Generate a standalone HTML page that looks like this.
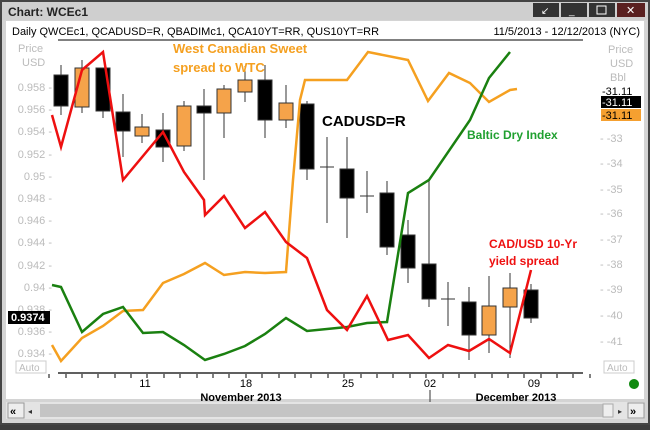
<!DOCTYPE html>
<html><head><meta charset="utf-8"><style>
body{margin:0;width:650px;height:425px;overflow:hidden;background:#3c3c3c;font-family:"Liberation Sans",sans-serif}
</style></head><body>
<svg width="650" height="425" xmlns="http://www.w3.org/2000/svg" font-family="Liberation Sans, sans-serif">
<rect x="0" y="0" width="650" height="425" fill="#444"/>
<rect x="2" y="2" width="646" height="421" fill="#d4d4d4"/>
<rect x="2" y="2" width="646" height="18" fill="#cfcfcf"/>
<text x="8" y="16" font-size="12" font-weight="bold" fill="#222">Chart: WCEc1</text>
<rect x="533" y="3" width="26" height="14" fill="#333"/><rect x="561" y="3" width="26" height="14" fill="#333"/><rect x="589" y="3" width="26" height="14" fill="#333"/><rect x="617" y="3" width="28" height="14" fill="#5a2020"/>
<text x="541" y="14" font-size="10" fill="#fff">↙</text><text x="569" y="14" font-size="10" fill="#fff">_</text><rect x="597" y="6" width="9" height="8" fill="none" stroke="#fff"/><text x="626" y="14" font-size="11" fill="#fff">✕</text>
<rect x="6" y="21" width="638" height="378" fill="#fff"/>
<text x="12" y="35" font-size="11" fill="#000">Daily QWCEc1, QCADUSD=R, QBADIMc1, QCA10YT=RR, QUS10YT=RR</text>
<text x="640" y="35" font-size="11" fill="#000" text-anchor="end">11/5/2013 - 12/12/2013 (NYC)</text>
<line x1="58" y1="40" x2="583" y2="40" stroke="#000"/>
<g font-size="11" fill="#bbb">
<text x="18" y="52">Price</text><text x="22" y="66">USD</text>
<text x="608" y="53">Price</text><text x="610" y="67">USD</text><text x="610" y="81">Bbl</text>
</g>
<g font-size="11" fill="#bbb" text-anchor="end">
<text x="52" y="91">0.958 -</text><text x="52" y="113">0.956 -</text><text x="52" y="135">0.954 -</text><text x="52" y="158">0.952 -</text><text x="52" y="180">0.95 -</text><text x="52" y="202">0.948 -</text><text x="52" y="224">0.946 -</text><text x="52" y="246">0.944 -</text><text x="52" y="269">0.942 -</text><text x="52" y="291">0.94 -</text><text x="52" y="313">0.938 -</text><text x="52" y="335">0.936 -</text><text x="52" y="357">0.934 -</text>
</g>
<g font-size="11" fill="#bbb">
<text x="600" y="142">- -33</text><text x="600" y="167">- -34</text><text x="600" y="193">- -35</text><text x="600" y="217">- -36</text><text x="600" y="243">- -37</text><text x="600" y="268">- -38</text><text x="600" y="293">- -39</text><text x="600" y="319">- -40</text><text x="600" y="345">- -41</text>
</g>
<text x="602" y="95" font-size="11" fill="#000">-31.11</text>
<rect x="601" y="96" width="40" height="12" fill="#000"/><text x="602" y="106" font-size="11" fill="#fff">-31.11</text>
<rect x="601" y="109" width="40" height="12" fill="#f5a030"/><text x="602" y="119" font-size="11" fill="#000">-31.11</text>
<rect x="8" y="311" width="42" height="13" fill="#000"/><text x="11" y="321" font-size="11" fill="#fff" font-weight="bold">0.9374</text>
<rect x="16" y="361" width="30" height="12" fill="#fff" stroke="#ccc"/><text x="19" y="371" font-size="10" fill="#bbb">Auto</text>
<rect x="604" y="361" width="30" height="12" fill="#fff" stroke="#ccc"/><text x="607" y="371" font-size="10" fill="#bbb">Auto</text>
<!-- candles -->
<g stroke="#333" stroke-width="1">
<line x1="61" y1="65" x2="61" y2="115"/><rect x="54" y="75" width="14" height="31" fill="#000"/>
<line x1="82" y1="60" x2="82" y2="113"/><rect x="75" y="68" width="14" height="39" fill="#f5a34a"/>
<line x1="103" y1="68" x2="103" y2="118"/><rect x="96" y="68" width="14" height="43" fill="#000"/>
<line x1="123" y1="94" x2="123" y2="157"/><rect x="116" y="112" width="14" height="19" fill="#000"/>
<line x1="142" y1="114" x2="142" y2="143"/><rect x="135" y="127" width="14" height="9" fill="#f5a34a"/>
<line x1="163" y1="113" x2="163" y2="162"/><rect x="156" y="130" width="14" height="17" fill="#000"/>
<line x1="184" y1="101" x2="184" y2="151"/><rect x="177" y="106" width="14" height="40" fill="#f5a34a"/>
<line x1="204" y1="89" x2="204" y2="180"/><rect x="197" y="106" width="14" height="7" fill="#000"/>
<line x1="224" y1="85" x2="224" y2="138"/><rect x="217" y="89" width="14" height="24" fill="#f5a34a"/>
<line x1="245" y1="66" x2="245" y2="102"/><rect x="238" y="80" width="14" height="12" fill="#f5a34a"/>
<line x1="265" y1="65" x2="265" y2="138"/><rect x="258" y="80" width="14" height="40" fill="#000"/>
<line x1="286" y1="85" x2="286" y2="128"/><rect x="279" y="103" width="14" height="17" fill="#f5a34a"/>
<line x1="307" y1="101" x2="307" y2="180"/><rect x="300" y="104" width="14" height="65" fill="#000"/>
<line x1="327" y1="137" x2="327" y2="223"/><line x1="320" y1="167" x2="334" y2="167"/>
<line x1="347" y1="137" x2="347" y2="238"/><rect x="340" y="169" width="14" height="29" fill="#000"/>
<line x1="367" y1="171" x2="367" y2="213"/><line x1="360" y1="196" x2="374" y2="196"/>
<line x1="387" y1="181" x2="387" y2="255"/><rect x="380" y="193" width="14" height="54" fill="#000"/>
<line x1="408" y1="220" x2="408" y2="283"/><rect x="401" y="235" width="14" height="33" fill="#000"/>
<line x1="429" y1="180" x2="429" y2="307"/><rect x="422" y="264" width="14" height="35" fill="#000"/>
<line x1="448" y1="282" x2="448" y2="326"/><line x1="441" y1="299" x2="455" y2="299"/>
<line x1="469" y1="287" x2="469" y2="360"/><rect x="462" y="302" width="14" height="33" fill="#000"/>
<line x1="489" y1="276" x2="489" y2="353"/><rect x="482" y="306" width="14" height="29" fill="#f5a34a"/>
<line x1="510" y1="273" x2="510" y2="358"/><rect x="503" y="288" width="14" height="19" fill="#f5a34a"/>
<line x1="531" y1="284" x2="531" y2="323"/><rect x="524" y="290" width="14" height="28" fill="#000"/>
</g>
<polyline fill="none" stroke="#f5a020" stroke-width="2.5" points="52,345 61,361 82,338 103,326 123,311 143,310 163,283 184,274 205,263 224,275 245,272 265,273 286,272 293,180 300,100 305,80 347,80 368,52 408,60 428,101 449,73 470,83 489,102 510,90 517,89"/>
<polyline fill="none" stroke="#1a8010" stroke-width="2.5" points="52,285 61,287 82,332 103,314 123,307 143,333 163,332 184,345 205,360 224,354 245,346 265,334 286,318 307,331 347,327 367,323 387,322 408,193 429,180 470,120 489,78 510,52"/>
<polyline fill="none" stroke="#ee1010" stroke-width="2.5" points="52,115 61,147 82,70 103,52 123,180 163,132 184,172 204,200 205,215 224,196 245,228 265,212 286,242 307,258 327,310 347,330 367,296 388,340 408,335 429,358 448,345 469,351 489,339 510,353 531,270"/>
<g font-weight="bold" font-size="13">
<text x="173" y="53" fill="#f5a020">West Canadian Sweet</text>
<text x="173" y="72" fill="#f5a020">spread to WTC</text>
<text x="322" y="126" fill="#000" font-size="15">CADUSD=R</text>
<text x="467" y="139" fill="#20a030" font-size="12">Baltic Dry Index</text>
<text x="489" y="248" fill="#ee1010" font-size="12">CAD/USD 10-Yr</text>
<text x="489" y="265" fill="#ee1010" font-size="12">yield spread</text>
</g>
<line x1="58" y1="373" x2="583" y2="373" stroke="#000" stroke-width="1.2"/>
<g stroke="#000"><line x1="49" y1="374" x2="49" y2="378"/><line x1="66" y1="374" x2="66" y2="378"/><line x1="82" y1="374" x2="82" y2="378"/><line x1="98" y1="374" x2="98" y2="378"/><line x1="115" y1="374" x2="115" y2="378"/><line x1="131" y1="374" x2="131" y2="378"/><line x1="147" y1="374" x2="147" y2="378"/><line x1="164" y1="374" x2="164" y2="378"/><line x1="180" y1="374" x2="180" y2="378"/><line x1="197" y1="374" x2="197" y2="378"/><line x1="213" y1="374" x2="213" y2="378"/><line x1="229" y1="374" x2="229" y2="378"/><line x1="246" y1="374" x2="246" y2="378"/><line x1="262" y1="374" x2="262" y2="378"/><line x1="279" y1="374" x2="279" y2="378"/><line x1="295" y1="374" x2="295" y2="378"/><line x1="311" y1="374" x2="311" y2="378"/><line x1="328" y1="374" x2="328" y2="378"/><line x1="344" y1="374" x2="344" y2="378"/><line x1="361" y1="374" x2="361" y2="378"/><line x1="377" y1="374" x2="377" y2="378"/><line x1="393" y1="374" x2="393" y2="378"/><line x1="410" y1="374" x2="410" y2="378"/><line x1="426" y1="374" x2="426" y2="378"/><line x1="443" y1="374" x2="443" y2="378"/><line x1="459" y1="374" x2="459" y2="378"/><line x1="475" y1="374" x2="475" y2="378"/><line x1="492" y1="374" x2="492" y2="378"/><line x1="508" y1="374" x2="508" y2="378"/><line x1="524" y1="374" x2="524" y2="378"/><line x1="541" y1="374" x2="541" y2="378"/><line x1="557" y1="374" x2="557" y2="378"/><line x1="573" y1="374" x2="573" y2="378"/><line x1="590" y1="374" x2="590" y2="378"/></g>
<g font-size="11" fill="#000" text-anchor="middle">
<text x="145" y="387">11</text><text x="246" y="387">18</text><text x="348" y="387">25</text><text x="430" y="387">02</text><text x="534" y="387">09</text>
</g>
<g font-size="11" font-weight="bold" fill="#000" text-anchor="middle"><text x="241" y="401">November 2013</text><text x="516" y="401">December 2013</text></g>
<line x1="430" y1="390" x2="430" y2="404" stroke="#555" stroke-width="1.2"/>
<circle cx="634" cy="384" r="5" fill="#108a10"/>
<rect x="6" y="402" width="638" height="17" fill="#e4e4e4"/>
<rect x="8" y="403" width="16" height="15" fill="#eee" stroke="#999"/><text x="10" y="415" font-size="11" font-weight="bold">«</text>
<rect x="40" y="404" width="563" height="13" fill="#c4c4c4"/>
<rect x="603" y="404" width="10" height="13" fill="#eee" stroke="#aaa"/>
<text x="28" y="414" font-size="8" fill="#333">◂</text><text x="618" y="414" font-size="8" fill="#333">▸</text>
<rect x="628" y="403" width="16" height="15" fill="#eee" stroke="#999"/><text x="630" y="415" font-size="11" font-weight="bold">»</text>
</svg>
</body></html>
